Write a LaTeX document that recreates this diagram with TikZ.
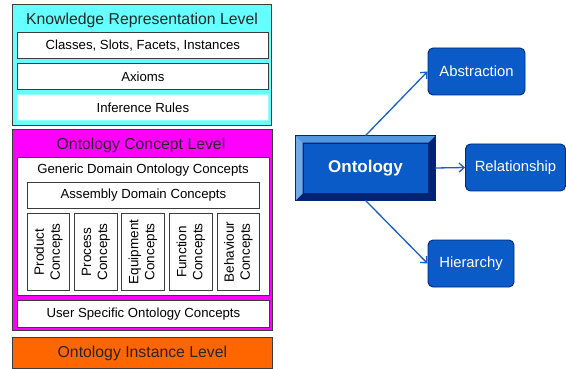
\documentclass[tikz,border=0pt]{standalone}
\usepackage{fontspec}
\setmainfont{Liberation Sans}
\usetikzlibrary{arrows.meta,calc}
\definecolor{kcyan}{RGB}{102,255,255}
\definecolor{kmag}{RGB}{255,0,255}
\definecolor{korange}{RGB}{255,102,0}
\definecolor{bfill}{RGB}{10,90,200}
\definecolor{bedge}{RGB}{0,40,120}
\definecolor{blight}{RGB}{80,150,225}
\definecolor{bdark}{RGB}{0,35,115}
\definecolor{barrow}{RGB}{20,95,200}
\definecolor{gedge}{RGB}{60,60,60}
\tikzset{
  lvl/.style={draw=gedge, line width=0.9pt, anchor=north west, inner sep=0pt},
  inbox/.style={draw=gedge, line width=0.8pt, fill=white, anchor=north west, inner sep=0pt, font=\fontsize{13.2}{15}\selectfont},
  ttl/.style={font=\fontsize{15.8}{18}\selectfont, text=black!85, inner sep=0pt},
  vbox/.style={inbox, align=center},
  vtxt/.style={rotate=90, align=center, font=\fontsize{13.5}{16}\selectfont, inner sep=0pt},
  bluebox/.style={draw=bedge, line width=0.9pt, fill=bfill, rounded corners=5pt, text=white, font=\fontsize{14.8}{17}\selectfont, inner sep=0pt},
  conn/.style={barrow, line width=1.3pt, -{Straight Barb[length=5pt,width=9pt]}}
}
\begin{document}
\begin{tikzpicture}[x=1pt,y=-1pt]
\useasboundingbox (0,0) rectangle (566,369);
\fill[white] (0,0) rectangle (566,369);
% Knowledge representation level
\node[lvl, fill=kcyan, minimum width=259pt, minimum height=121pt] (krl) at (12,4) {};
\node[ttl] (krlt) at (142,20) {Knowledge Representation Level};
\node[inbox, minimum width=251pt, minimum height=26pt] (cls) at (17,32) {Classes, Slots, Facets, Instances};
\node[inbox, minimum width=251pt, minimum height=26pt] (ax) at (17,63) {Axioms};
\node[inbox, draw=kcyan!70!white, minimum width=251pt, minimum height=26pt] (inf) at (17,94) {Inference Rules};
% Ontology concept level
\node[lvl, fill=kmag, minimum width=260pt, minimum height=201pt] (ocl) at (12,129) {};
\node[ttl] (oclt) at (141,145) {Ontology Concept Level};
\node[inbox, minimum width=252pt, minimum height=138pt] (gen) at (17,157) {};
\node[font=\fontsize{13.2}{15}\selectfont, inner sep=0pt] (gent) at (143,170) {Generic Domain Ontology Concepts};
\node[inbox, minimum width=232pt, minimum height=26pt] (asm) at (27,182) {Assembly Domain Concepts};
\node[vbox, minimum width=42pt, minimum height=77pt] (p1) at (27,213) {};
\node[vbox, minimum width=43pt, minimum height=77pt] (p2) at (74,213) {};
\node[vbox, minimum width=43pt, minimum height=77pt] (p3) at (121,213) {};
\node[vbox, minimum width=43pt, minimum height=77pt] (p4) at (169,213) {};
\node[vbox, minimum width=42pt, minimum height=77pt] (p5) at (217,213) {};
\node[vtxt] (p1t) at (p1.center) {Product\\Concepts};
\node[vtxt] (p2t) at (p2.center) {Process\\Concepts};
\node[vtxt] (p3t) at (p3.center) {Equipment\\Concepts};
\node[vtxt] (p4t) at (p4.center) {Function\\Concepts};
\node[vtxt] (p5t) at (p5.center) {Behaviour\\Concepts};
\node[inbox, minimum width=252pt, minimum height=27pt] (usr) at (17,300) {User Specific Ontology Concepts};
% Ontology instance level
\node[lvl, fill=korange, minimum width=260pt, minimum height=31pt] (oil) at (12,337) {};
\node[ttl] (oilt) at (oil.center) {Ontology Instance Level};
% Ontology bevel box
\node[draw=bedge, line width=0.8pt, fill=bdark, minimum width=139pt, minimum height=64pt, inner sep=0pt] (ont) at (365.5,168) {};
\fill[blight] (ont.north west) -- (ont.north east) -- ($(ont.north east)+(-7,7)$) -- ($(ont.north west)+(7,7)$) -- cycle;
\fill[blight!80!white] (ont.north west) -- ($(ont.north west)+(7,7)$) -- ($(ont.south west)+(7,-7)$) -- (ont.south west) -- cycle;
\node[fill=bfill, draw=bedge, line width=0.5pt, minimum width=125pt, minimum height=50pt, inner sep=0pt, text=white, font=\bfseries\fontsize{17}{20}\selectfont] (ontt) at (ont.center) {Ontology};
\draw[bedge, line width=0.8pt] (ont.north west) rectangle (ont.south east);
% right boxes
\node[bluebox, minimum width=97pt, minimum height=47pt] (abs) at (476.5,71.5) {Abstraction};
\node[bluebox, minimum width=100pt, minimum height=47pt] (rel) at (515.5,167.5) {Relationship};
\node[bluebox, minimum width=86pt, minimum height=47pt] (hier) at (471,263.5) {Hierarchy};
% connectors
\draw[conn] (ont.north) -- (abs.west);
\draw[conn] (ont.east) -- (rel.west);
\draw[conn] (ont.south) -- (hier.west);
\end{tikzpicture}
\end{document}
